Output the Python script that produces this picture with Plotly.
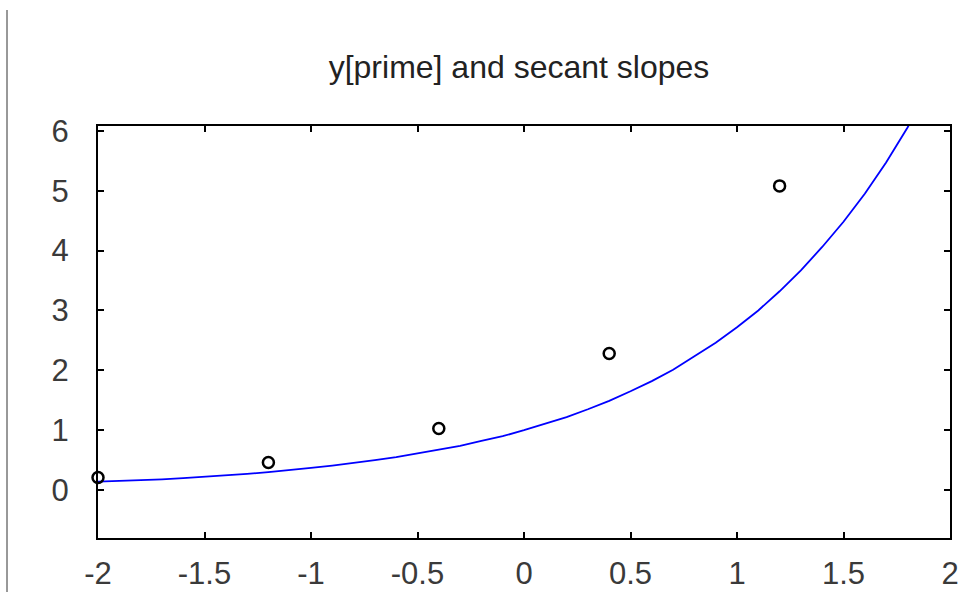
import plotly.graph_objects as go

# Curve y' = e^x
curve_x = [-2.0, -1.9, -1.8, -1.7, -1.6, -1.5, -1.4, -1.3, -1.2, -1.1, -1.0,
           -0.9, -0.8, -0.7, -0.6, -0.5, -0.4, -0.3, -0.2, -0.1, 0.0,
           0.1, 0.2, 0.3, 0.4, 0.5, 0.6, 0.7, 0.8, 0.9, 1.0,
           1.1, 1.2, 1.3, 1.4, 1.5, 1.6, 1.7, 1.8, 1.9]
curve_y = [0.14, 0.15, 0.17, 0.18, 0.20, 0.22, 0.25, 0.27, 0.30, 0.33, 0.37,
           0.41, 0.45, 0.50, 0.55, 0.61, 0.67, 0.74, 0.82, 0.90, 1.00,
           1.11, 1.22, 1.35, 1.49, 1.65, 1.82, 2.01, 2.23, 2.46, 2.72,
           3.00, 3.32, 3.67, 4.06, 4.48, 4.95, 5.47, 6.05, 6.69]

# Secant slope points
secant_x = [-2.0, -1.2, -0.4, 0.4, 1.2]
secant_y = [0.21, 0.46, 1.03, 2.28, 5.08]

x_ticks = [-2, -1.5, -1, -0.5, 0, 0.5, 1, 1.5, 2]
x_tick_labels = ["-2", "-1.5", "-1", "-0.5", "0", "0.5", "1", "1.5", "2"]
y_ticks = [0, 1, 2, 3, 4, 5, 6]
y_tick_labels = ["0", "1", "2", "3", "4", "5", "6"]

title_text = "y[prime] and secant slopes"

fig = go.Figure()
fig.add_trace(go.Scatter(x=curve_x, y=curve_y, mode="lines",
                         line=dict(color="#0000ff", width=1.8),
                         showlegend=False, hoverinfo="skip"))
fig.add_trace(go.Scatter(x=secant_x, y=secant_y, mode="markers",
                         marker=dict(symbol="circle-open", size=11,
                                     color="black", line=dict(width=2.5)),
                         showlegend=False, cliponaxis=False))

font_family = "Liberation Sans, Arial, sans-serif"
axis_common = dict(showline=True, linecolor="black", linewidth=2, mirror="allticks",
                   ticks="inside", ticklen=6, tickwidth=2, tickcolor="black",
                   showgrid=False, zeroline=False, automargin=False,
                   tickfont=dict(family=font_family, size=31, color="#3a3a3a"))

fig.update_layout(
    width=959, height=592,
    margin=dict(l=98, r=9, t=126, b=54, pad=0, autoexpand=False),
    paper_bgcolor="white", plot_bgcolor="white",
    title=dict(text=title_text, xref="container", x=519 / 959, xanchor="center",
               yref="container", y=1 - 67 / 592, yanchor="middle",
               font=dict(family=font_family, size=32, color="#222222")),
    xaxis=dict(range=[-2, 2], tickvals=x_ticks, ticktext=x_tick_labels,
               ticklabelstandoff=7, **axis_common),
    yaxis=dict(range=[-0.8, 6.08], tickvals=y_ticks, ticktext=y_tick_labels,
               ticklabelstandoff=21, **axis_common),
    shapes=[dict(type="line", xref="paper", yref="paper",
                 x0=-0.1068, x1=-0.1068, y0=1.2816, y1=-0.14,
                 line=dict(color="#777777", width=1.5))],
)

fig.write_html("out.html", config={"displayModeBar": False},
               post_script="document.body.style.margin='0';document.body.style.overflow='hidden';")
